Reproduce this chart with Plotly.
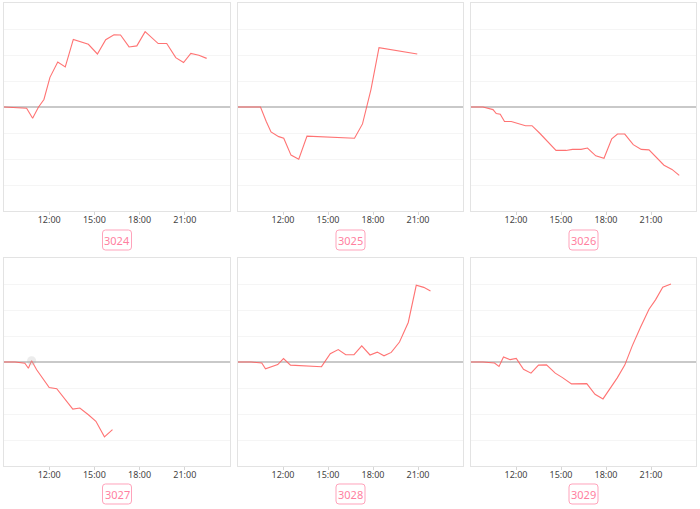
import plotly.graph_objects as go

BASE = "2024-01-01 "

codes = ["3024", "3025", "3026", "3027", "3028", "3029"]

t3024 = ["09:00", "10:30", "10:54", "11:17", "11:39", "12:03", "12:34", "13:04", "13:36", "14:36", "15:12", "15:45",
         "16:18", "16:44", "17:18", "17:49", "18:22", "19:14", "19:48", "20:24", "20:55", "21:24", "21:56", "22:27"]
v3024 = [0, -0.05, -0.43, -0.01, 0.29, 1.14, 1.73, 1.54, 2.6, 2.41, 2.04, 2.59,
         2.78, 2.77, 2.31, 2.35, 2.9, 2.44, 2.44, 1.9, 1.71, 2.06, 1.99, 1.87]

t3025 = ["09:00", "10:30", "10:53", "11:12", "11:43", "12:03", "12:32", "13:03", "13:36", "16:46", "17:18", "17:52",
         "18:24", "20:57"]
v3025 = [0, 0, -0.56, -0.96, -1.14, -1.2, -1.85, -2.01, -1.12, -1.2, -0.65, 0.68, 2.28, 2.04]

t3026 = ["09:00", "09:48", "10:28", "10:41", "10:57", "11:14", "11:41", "12:14", "12:38", "13:04", "13:34", "14:40",
         "15:20", "15:46", "16:20", "16:46", "17:19", "17:52", "18:23", "18:46", "19:15", "19:49", "20:21", "20:52",
         "21:52", "22:24", "22:53"]
v3026 = [0, 0, -0.1, -0.25, -0.28, -0.56, -0.56, -0.67, -0.72, -0.72, -1.0, -1.67,
         -1.67, -1.63, -1.63, -1.58, -1.88, -1.97, -1.22, -1.04, -1.04, -1.45, -1.63, -1.65,
         -2.24, -2.4, -2.63]

t3027 = ["09:00", "09:44", "10:23", "10:37", "10:50", "11:10", "12:00", "12:30", "13:34", "14:02", "14:36", "15:06",
         "15:40", "16:12"]
v3027 = [0, 0, -0.05, -0.24, 0.05, -0.3, -0.98, -1.03, -1.81, -1.77, -2.03, -2.28, -2.88, -2.6]

t3028 = ["09:00", "09:53", "10:35", "10:50", "11:39", "12:02", "12:30", "14:34", "15:09", "15:41", "16:11", "16:44",
         "17:15", "17:48", "18:17", "18:44", "19:13", "19:46", "20:21", "20:53", "21:23", "21:50"]
v3028 = [0, 0, -0.04, -0.26, -0.1, 0.13, -0.12, -0.18, 0.32, 0.48, 0.28, 0.28,
         0.62, 0.27, 0.38, 0.24, 0.37, 0.77, 1.52, 2.95, 2.87, 2.73]

t3029 = ["09:00", "09:48", "10:34", "10:52", "11:10", "11:37", "12:01", "12:30", "13:00", "13:30", "14:02", "14:37",
         "15:06", "15:42", "16:43", "17:16", "17:48", "18:45", "19:15", "19:45", "20:18", "20:52", "21:18", "21:47",
         "22:20"]
v3029 = [0, 0, -0.04, -0.17, 0.19, 0.09, 0.14, -0.28, -0.43, -0.12, -0.11, -0.43,
         -0.6, -0.84, -0.83, -1.24, -1.42, -0.61, -0.12, 0.62, 1.34, 2.03, 2.39, 2.88,
         3.0]

times = [t3024, t3025, t3026, t3027, t3028, t3029]
values = [v3024, v3025, v3026, v3027, v3028, v3029]

tick_times = ["12:00", "15:00", "18:00", "21:00"]
tick_text = ["12:00", "15:00", "18:00", "21:00"]
x_start, x_end = "09:00", "23:59:59"

W, H = 700, 509
col_px = [(4, 230), (238, 463), (471, 696)]
row_px = [(3, 211), (258, 466)]
label_rows = [240, 494]
BOX_W, BOX_H, BOX_R = 29, 20, 3

fig = go.Figure()
layout = dict(
    width=W, height=H,
    margin=dict(l=0, r=0, t=0, b=0),
    paper_bgcolor="white", plot_bgcolor="white",
    showlegend=False,
    font=dict(family="Noto Sans, DejaVu Sans, sans-serif"),
)
annotations = []
shapes = []


def px_x(p):
    return p / W


def px_y(p):
    return (H - p) / H


def rounded_rect(cx, cy, w, h, rad):
    l, r_, t, b = cx - w / 2, cx + w / 2, cy - h / 2, cy + h / 2
    pts = [
        ("M", l + rad, t), ("L", r_ - rad, t), ("Q", r_, t, r_, t + rad),
        ("L", r_, b - rad), ("Q", r_, b, r_ - rad, b), ("L", l + rad, b),
        ("Q", l, b, l, b - rad), ("L", l, t + rad), ("Q", l, t, l + rad, t),
    ]
    out = []
    for p in pts:
        cmd, coords = p[0], p[1:]
        pairs = []
        for k in range(0, len(coords), 2):
            pairs.append(f"{px_x(coords[k]):.5f},{px_y(coords[k + 1]):.5f}")
        out.append(cmd + " ".join(pairs))
    return " ".join(out) + " Z"


for i, code in enumerate(codes):
    r, c = divmod(i, 3)
    n = "" if i == 0 else str(i + 1)
    xa, ya = "x" + n, "y" + n
    x0, x1 = col_px[c]
    y0, y1 = row_px[r]
    fig.add_trace(go.Scatter(
        x=[BASE + t for t in times[i]], y=values[i],
        mode="lines", line=dict(color="rgba(255,90,90,0.85)", width=1.1),
        xaxis=xa, yaxis=ya, hoverinfo="x+y",
    ))
    layout["xaxis" + n] = dict(
        domain=[px_x(x0), px_x(x1)], anchor=ya, type="date",
        range=[BASE + x_start, BASE + x_end],
        tickvals=[BASE + t for t in tick_times], ticktext=tick_text,
        ticks="outside", ticklen=3, tickcolor="#d6d6d6",
        ticklabelstandoff=-3,
        tickfont=dict(size=9, color="#444"),
        showgrid=False, showline=True, mirror=True, linecolor="#e3e3e3", linewidth=1,
        zeroline=False, fixedrange=True,
    )
    layout["yaxis" + n] = dict(
        domain=[px_y(y1), px_y(y0)], anchor=xa,
        range=[-4, 4], dtick=1, showticklabels=False,
        showgrid=True, gridcolor="#f5f5f5", gridwidth=1,
        zeroline=True, zerolinecolor="#c9c9c9", zerolinewidth=1.5,
        showline=True, mirror=True, linecolor="#e3e3e3", linewidth=1,
        fixedrange=True,
    )
    cx, cy = (x0 + x1) / 2, label_rows[r]
    shapes.append(dict(
        type="path", xref="paper", yref="paper",
        path=rounded_rect(cx, cy, BOX_W, BOX_H, BOX_R),
        line=dict(color="#ffa3bb", width=1), fillcolor="white", layer="above",
    ))
    annotations.append(dict(
        x=px_x(cx), y=px_y(cy), xref="paper", yref="paper",
        text=code, showarrow=False, xanchor="center", yanchor="middle",
        font=dict(size=11, color="#ff7f9f"),
    ))

# faint highlight on the 3027 bump
fig.add_trace(go.Scatter(
    x=[BASE + t3027[4]], y=[v3027[4]], mode="markers",
    marker=dict(size=9, color="rgba(180,180,180,0.25)"),
    xaxis="x4", yaxis="y4", hoverinfo="skip",
))

layout["annotations"] = annotations
layout["shapes"] = shapes
fig.update_layout(**layout)
fig.write_html(
    "out.html",
    config={"displayModeBar": False},
    post_script="document.body.style.margin='0';document.body.style.overflow='hidden';",
)
